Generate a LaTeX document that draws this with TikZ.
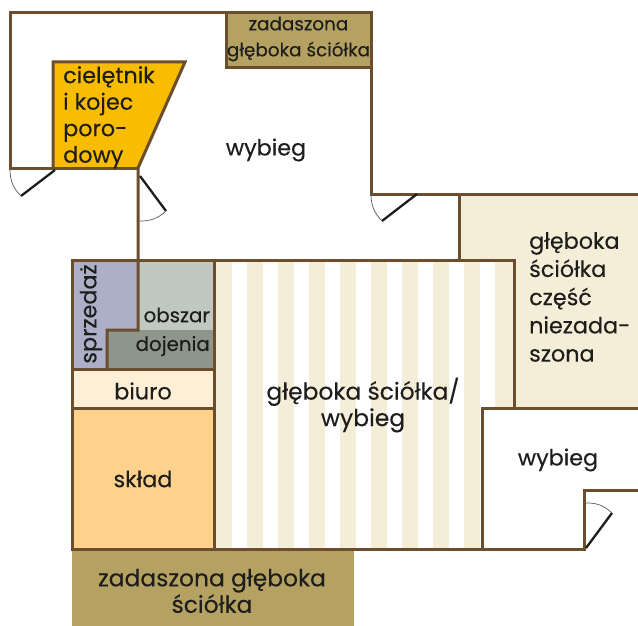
\documentclass[tikz,border=0pt]{standalone}
\usepackage{fontspec}
\setmainfont[FakeBold=0.2]{Poppins}
\definecolor{wall}{HTML}{6B4E2E}
\definecolor{olive}{HTML}{B5A262}
\definecolor{gold}{HTML}{F8BC00}
\definecolor{tan1}{HTML}{F4EDD8}
\definecolor{sprz}{HTML}{ACAFC7}
\definecolor{obsz}{HTML}{C1C8C2}
\definecolor{doj}{HTML}{8E968B}
\definecolor{biu}{HTML}{FEEFD6}
\definecolor{skl}{HTML}{FED28D}
\definecolor{ink}{HTML}{1D1D1B}
\tikzset{
 wallline/.style={draw=wall,line width=3pt,line join=miter,line cap=butt},
 leaf/.style={draw=ink,line width=2.3pt},
 swing/.style={draw=black!65,line width=0.7pt},
 lab/.style={text=ink,inner sep=0pt,align=center,font=\fontsize{22.3}{26.5}\selectfont},
 labt/.style={text=ink,inner sep=0pt,align=left,font=\fontsize{22.3}{28.2}\selectfont},
 labw/.style={text=ink,inner sep=0pt,align=center,font=\fontsize{23.4}{26.5}\selectfont},
 labs/.style={text=ink,inner sep=0pt,align=center,font=\fontsize{18.4}{26}\selectfont},
 labm/.style={text=ink,inner sep=0pt,align=center,font=\fontsize{19.8}{24}\selectfont},
}
\begin{document}
\begin{tikzpicture}[x=1pt,y=-1pt]
\useasboundingbox (0,0) rectangle (638,626);
\fill[white] (0,0) rectangle (638,626);
% fills
\fill[olive] (226,13) rectangle (371,68);
\fill[olive] (72,549) rectangle (354,626);
\fill[gold] (53,62) -- (185,62) -- (138,168) -- (53,168) -- cycle;
\fill[tan1] (459,194) -- (638,194) -- (638,408) -- (514,408) -- (514,260) -- (459,260) -- cycle;
\foreach \k in {0,...,8}{
  \fill[tan1] ({216+31*\k},260) rectangle ({231.5+31*\k},549);
}
\fill[tan1] (495,260) rectangle (514,408);
\fill[white] (482,408) rectangle (638,549);
\fill[sprz] (72,260) -- (138,260) -- (138,330) -- (107,330) -- (107,369) -- (72,369) -- cycle;
\fill[obsz] (138,260) rectangle (214,330);
\fill[doj] (107,330) rectangle (214,369);
\fill[biu] (72,369) rectangle (214,408);
\fill[skl] (72,408) rectangle (214,549);
% walls
\draw[wallline] (226,13) -- (226,68) -- (371,68);
\draw[wallline] (138,168) -- (10,168) -- (10,13) -- (371,13) -- (371,194) -- (638,194);
\draw[wallline] (53,168) -- (53,62) -- (185,62) -- (138,168) -- (138,330) -- (107,330) -- (107,369);
\draw[wallline] (459,194) -- (459,260);
\draw[wallline] (72,260) rectangle (214,549);
\draw[wallline] (214,260) -- (514,260) -- (514,408);
\draw[wallline] (72,369) -- (214,369);
\draw[wallline] (72,408) -- (214,408);
\draw[wallline] (638,408) -- (482,408) -- (482,549);
\draw[wallline] (214,549) -- (584,549) -- (584,490) -- (638,490);
% doors
\draw[leaf] (55,170) -- (21,196);
\draw[swing] (10,170) to[bend right=22] (21,196);
\draw[leaf] (140,176) -- (166,211);
\draw[swing] (166,211) to[bend left=22] (139,221);
\draw[leaf] (417,194) -- (382,221);
\draw[swing] (371,194) to[bend right=22] (382,221);
\draw[leaf] (586,548) -- (612,513);
\draw[swing] (612,513) to[bend right=22] (586,503);
% labels
\node[labs] (zad) at (298.5,39) {zadaszona\\głęboka ściółka};
\node[lab,align=left,anchor=north west] (koj) at (63,66) {cielętnik\\i kojec\\poro-\\dowy};
\node[lab] (wyb1) at (266,150) {wybieg};
\node[labt,anchor=west] (ns) at (529,297) {głęboka\\ściółka\\część\\niezada-\\szona};
\node[labw] (gs) at (363,405) {głęboka ściółka/\\wybieg};
\node[lab] (wyb2) at (558,460) {wybieg};
\node[lab,rotate=90] (sp) at (91,314) {sprzedaż};
\node[labm,anchor=east] (ob) at (210,315) {obszar};
\node[labm,anchor=east] (do) at (210,346) {dojenia};
\node[lab] (bi) at (143,391) {biuro};
\node[lab] (sk) at (143,479) {skład};
\node[labw] (zg) at (212,591) {zadaszona głęboka\\ściółka};
\end{tikzpicture}
\end{document}
